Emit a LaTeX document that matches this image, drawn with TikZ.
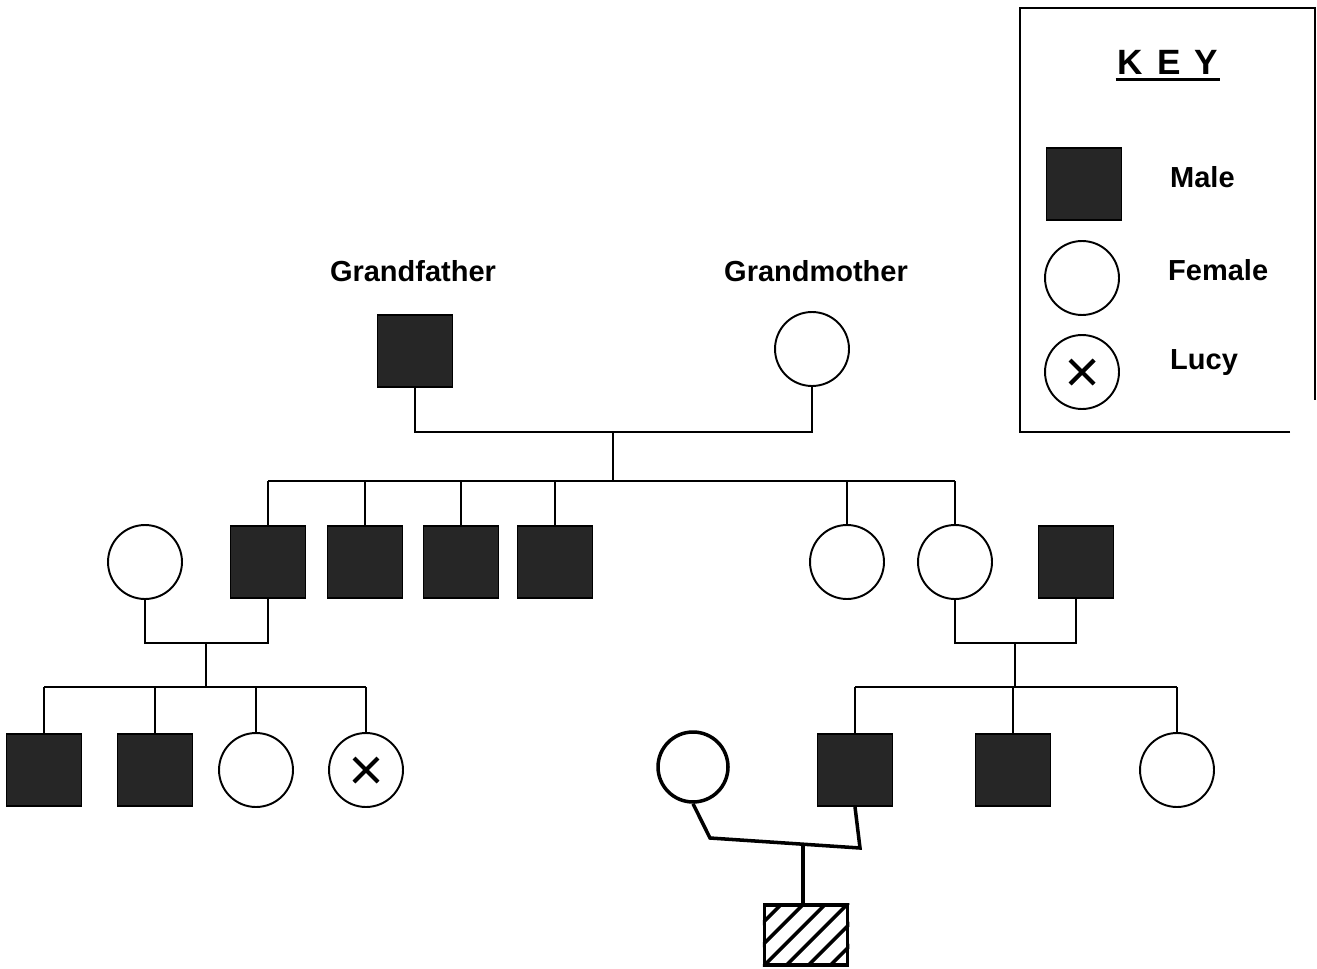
\documentclass[tikz,border=0pt]{standalone}
\usepackage{fontspec}
\setmainfont{Liberation Sans}
\usetikzlibrary{calc,positioning}
\tikzset{
  male/.style={draw,line width=1.1pt,fill=black!85,minimum width=1.5cm,minimum height=1.44cm,inner sep=0pt},
  female/.style={draw,circle,line width=1.1pt,fill=white,minimum size=1.48cm,inner sep=0pt},
  lbl/.style={font=\fontsize{16.5}{19}\selectfont\bfseries},
  link/.style={line width=0.8pt},
  heavy/.style={line width=2pt},
}
\newcommand{\lucycross}[1]{\draw[line width=2.4pt] (#1) ++(-12,-12) -- ++(24,24) (#1) ++(-12,12) -- ++(24,-24);}

\begin{document}
\begin{tikzpicture}[x=0.02cm,y=-0.02cm]
\useasboundingbox (0,0) rectangle (1317,969);
% grandparents
\node[lbl] (gflbl) at (413,271) {Grandfather};
\node[lbl] (gmlbl) at (816,271) {Grandmother};
\node[male] (gf) at (415,351) {};
\node[female] (gm) at (812,349) {};
\coordinate (j1) at (613,432);
\coordinate (b1) at (613,481);
\draw[link] (gf.south) |- (j1) -| (gm.south);
\draw[link] (j1) -- (b1);
% second generation
\node[female] (aunt) at (145,562) {};
\node[male] (s1) at (268,562) {};
\node[male] (s2) at (365,562) {};
\node[male] (s3) at (461,562) {};
\node[male] (s4) at (555,562) {};
\node[female] (d1) at (847,562) {};
\node[female] (d2) at (955,562) {};
\node[male] (uncle) at (1076,562) {};
\draw[link] (s1.north |- b1) -- (d2.north |- b1);
\foreach \c in {s1,s2,s3,s4,d1,d2}
  \draw[link] (\c.north) -- (\c.north |- b1);
% left family
\coordinate (j2) at (206,643);
\coordinate (b2) at (206,687);
\draw[link] (aunt.south) |- (j2) -| (s1.south);
\draw[link] (j2) -- (b2);
\node[male] (g1) at (44,770) {};
\node[male] (g2) at (155,770) {};
\node[female] (g3) at (256,770) {};
\node[female] (lucy) at (366,770) {};
\lucycross{lucy.center}
\draw[link] (g1.north |- b2) -- (lucy.north |- b2);
\foreach \c in {g1,g2,g3,lucy}
  \draw[link] (\c.north) -- (\c.north |- b2);
% right family
\coordinate (j3) at (1015,643);
\coordinate (b3) at (1015,687);
\draw[link] (d2.south) |- (j3) -| (uncle.south);
\draw[link] (j3) -- (b3);
\node[male] (c1) at (855,770) {};
\node[male] (c2) at (1013,770) {};
\node[female] (c3) at (1177,770) {};
\draw[link] (c1.north |- b3) -- (c3.north |- b3);
\foreach \c in {c1,c2,c3}
  \draw[link] (\c.north) -- (\c.north |- b3);
% cousin's family
\node[female,heavy,minimum size=1.4cm] (wife) at (693,767) {};
\coordinate (k1) at (710,838);
\coordinate (k2) at (860,848);
\coordinate (j4) at ($(k1)!0.62!(k2)$);
\draw[heavy] (wife.south) -- (k1) -- (k2) -- (c1.south);
\node[draw,heavy,minimum width=1.66cm,minimum height=1.2cm,inner sep=0pt] (baby) at (806,935) {};
\draw[heavy] (j4) -- (j4 |- baby.north);
\begin{scope}
  \clip (baby.south west) rectangle (baby.north east);
  \foreach \d in {-44,-22,0,22,44,66}
    \draw[line width=2pt] ($(baby.south west)+(\d,0)$) -- ++(80,-80);
\end{scope}
% key
\draw[line width=1.1pt] (1290,432) -- (1020,432) -- (1020,8) -- (1315,8) -- (1315,400);
\node[font=\fontsize{20}{22}\selectfont\bfseries,inner sep=1pt] (keylbl) at (1168,62) {K\hspace{0.4em}E\hspace{0.4em}Y};
\draw[line width=1.4pt] ([yshift=-2pt]keylbl.south west) -- ([yshift=-2pt]keylbl.south east);
\node[male] (kmale) at (1084,184) {};
\node[female] (kfemale) at (1082,278) {};
\node[female] (klucy) at (1082,372) {};
\lucycross{klucy.center}
\node[lbl,anchor=west] (tmale) at (1164,177) {Male};
\node[lbl,anchor=west] (tfemale) at (1162,270) {Female};
\node[lbl,anchor=west] (tlucy) at (1164,363) {Lucy};
\end{tikzpicture}
\end{document}
